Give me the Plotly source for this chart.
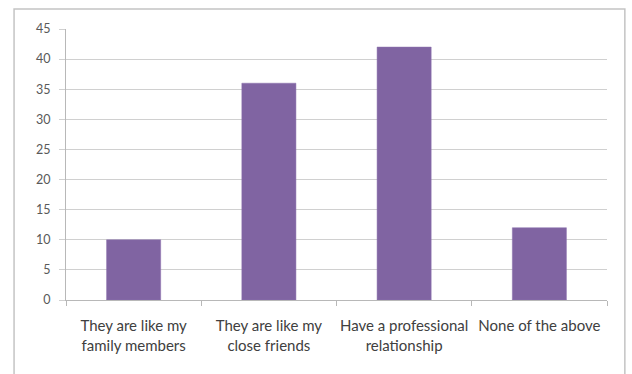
import plotly.graph_objects as go

categories = [
    "They are like my<br>family members",
    "They are like my<br>close friends",
    "Have a professional<br>relationship",
    "None of the above",
]
values = [10, 36, 42, 12]
y_ticks = [0, 5, 10, 15, 20, 25, 30, 35, 40, 45]

fig = go.Figure(
    go.Bar(
        x=categories,
        y=values,
        marker=dict(color="#8064A2", line=dict(color="#8a70ad", width=0.5)),
    )
)

grid = "#d0d0d0"
fig.update_layout(
    width=632,
    height=374,
    margin=dict(l=66, r=25, t=29, b=74),
    paper_bgcolor="white",
    plot_bgcolor="white",
    bargap=0.6,
    showlegend=False,
    font=dict(family="Lato, 'Open Sans', sans-serif", color="#404040"),
    xaxis=dict(
        type="category",
        tickson="boundaries",
        ticks="outside",
        ticklen=5,
        tickcolor="#b8b8b8",
        showline=True,
        linecolor="#b8b8b8",
        linewidth=1,
        showgrid=False,
        tickangle=0,
        automargin=False,
        tickfont=dict(size=15, color="#404040"),
        ticklabelstandoff=12,
    ),
    yaxis=dict(
        range=[0, 45],
        tickvals=y_ticks,
        ticks="outside",
        ticklen=6,
        tickcolor=grid,
        showline=True,
        linecolor="#b8b8b8",
        linewidth=1,
        showgrid=True,
        gridcolor=grid,
        gridwidth=1,
        zeroline=False,
        automargin=False,
        tickfont=dict(size=12.5, color="#595959"),
        ticklabelstandoff=6,
    ),
    shapes=[
        dict(
            type="rect",
            xref="paper",
            yref="paper",
            x0=-0.096,
            x1=1.033,
            y0=-0.3,
            y1=1.074,
            line=dict(color="#c4c4c4", width=1.5),
            fillcolor="rgba(0,0,0,0)",
            layer="below",
        )
    ],
)

fig.write_html("out.html")
